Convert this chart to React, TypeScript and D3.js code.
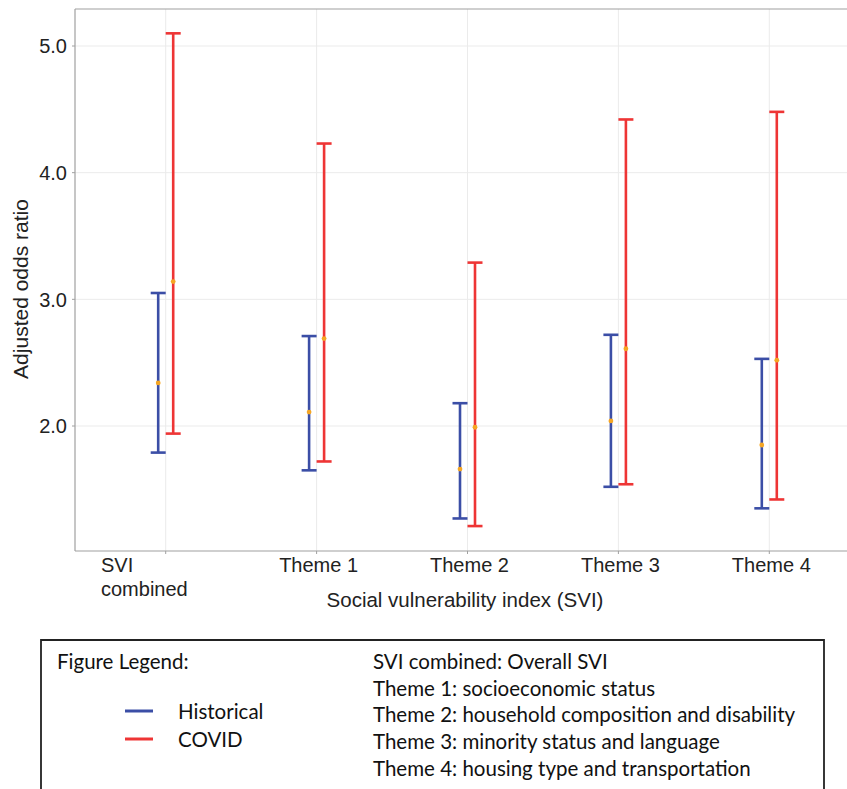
import React from "react";
import * as d3 from "d3";

const categories = ["SVI combined", "Theme 1", "Theme 2", "Theme 3", "Theme 4"];
const histEst = [2.34, 2.11, 1.66, 2.04, 1.85];
const histLow = [1.79, 1.65, 1.27, 1.52, 1.35];
const histHigh = [3.05, 2.71, 2.18, 2.72, 2.53];
const covidEst = [3.14, 2.69, 1.99, 2.61, 2.52];
const covidLow = [1.94, 1.72, 1.21, 1.54, 1.42];
const covidHigh = [5.1, 4.23, 3.29, 4.42, 4.48];
const yTicks = [2, 3, 4, 5];
const legendSeries = ["Historical", "COVID"];
const legendNotes = [
  "SVI combined: Overall SVI",
  "Theme 1: socioeconomic status",
  "Theme 2: household composition and disability",
  "Theme 3: minority status and language",
  "Theme 4: housing type and transportation",
];

const W = 847;
const H = 789;
const BLUE = "#3b4ea6";
const RED = "#ee3535";
const ORANGE = "#f5a623";
const AX_FONT = "'Liberation Sans', Arial, sans-serif";
const LEG_FONT = "Lato, 'Open Sans', sans-serif";

export default function App() {
  const plotL = 75, plotT = 9, plotB = 551, plotR = 860;
  const y = d3.scaleLinear().domain([2, 5]).range([426, 46]);
  const x = d3.scalePoint<string>().domain(categories).range([165.7, 769.3]);
  const dodge = 7.5;
  const cap = 7.5;

  const series = [
    { name: "Historical", color: BLUE, est: histEst, lo: histLow, hi: histHigh, off: -dodge },
    { name: "COVID", color: RED, est: covidEst, lo: covidLow, hi: covidHigh, off: dodge },
  ];

  return (
    <svg width={W} height={H} style={{ position: "absolute", left: 0, top: 0, background: "#fff" }}>
      <defs>
        <clipPath id="plotclip">
          <rect x={plotL} y={plotT} width={plotR - plotL} height={plotB - plotT} />
        </clipPath>
      </defs>
      <rect x={0} y={0} width={W} height={H} fill="#fff" />
      {/* grid */}
      <g>
        {yTicks.map((t) => (
          <line key={"gy" + t} x1={plotL} x2={plotR} y1={y(t)} y2={y(t)} stroke="#ebebeb" strokeWidth={1} />
        ))}
        {categories.map((c) => (
          <line key={"gx" + c} x1={x(c)} x2={x(c)} y1={plotT} y2={plotB} stroke="#ebebeb" strokeWidth={1} />
        ))}
      </g>
      {/* error bars */}
      <g clipPath="url(#plotclip)">
        {series.map((s) =>
          categories.map((c, i) => {
            const cx = (x(c) as number) + s.off;
            return (
              <g key={s.name + c}>
                <line x1={cx} x2={cx} y1={y(s.lo[i])} y2={y(s.hi[i])} stroke={s.color} strokeWidth={2.6} />
                <line x1={cx - cap} x2={cx + cap} y1={y(s.hi[i])} y2={y(s.hi[i])} stroke={s.color} strokeWidth={2.6} />
                <line x1={cx - cap} x2={cx + cap} y1={y(s.lo[i])} y2={y(s.lo[i])} stroke={s.color} strokeWidth={2.6} />
              </g>
            );
          })
        )}
        {series.map((s) =>
          categories.map((c, i) => (
            <circle key={"p" + s.name + c} cx={(x(c) as number) + s.off} cy={y(s.est[i])} r={2.4} fill={ORANGE} />
          ))
        )}
      </g>
      {/* panel border */}
      <line x1={plotL} x2={plotR} y1={plotT} y2={plotT} stroke="#a0a0a0" strokeWidth={1.2} />
      <line x1={plotL} x2={plotL} y1={plotT} y2={plotB} stroke="#a0a0a0" strokeWidth={1.2} />
      <line x1={plotL} x2={plotR} y1={plotB} y2={plotB} stroke="#a0a0a0" strokeWidth={1.2} />
      {/* y axis */}
      {yTicks.map((t) => (
        <g key={"yt" + t}>
          <line x1={plotL - 3} x2={plotL} y1={y(t)} y2={y(t)} stroke="#a0a0a0" strokeWidth={1} />
          <text x={plotL - 8} y={y(t)} dy="0.36em" textAnchor="end" fontFamily={AX_FONT} fontSize={20} fill="#222">
            {d3.format(".1f")(t)}
          </text>
        </g>
      ))}
      <text
        transform={`translate(${28},${289}) rotate(-90)`}
        textAnchor="middle"
        fontFamily={AX_FONT}
        fontSize={21}
        fill="#222"
      >
        Adjusted odds ratio
      </text>
      {/* x axis */}
      {categories.map((c) => (
        <line key={"xt" + c} x1={x(c)} x2={x(c)} y1={plotB} y2={plotB + 3} stroke="#a0a0a0" strokeWidth={1} />
      ))}
      {categories.map((c, i) =>
        i === 0 ? (
          <text key={"xl" + c} fontFamily={AX_FONT} fontSize={20} fill="#222">
            <tspan x={101} y={572}>SVI</tspan>
            <tspan x={101} y={596}>combined</tspan>
          </text>
        ) : (
          <text key={"xl" + c} x={(x(c) as number) + 2} y={572} textAnchor="middle" fontFamily={AX_FONT} fontSize={20} fill="#222">
            {c}
          </text>
        )
      )}
      <text x={465} y={607} textAnchor="middle" fontFamily={AX_FONT} fontSize={20.5} fill="#222">
        Social vulnerability index (SVI)
      </text>
      {/* legend box */}
      <path d={`M${41},${H + 2} V${640} H${824} V${H + 2}`} fill="none" stroke="#222" strokeWidth={1.8} />
      <text x={57} y={669} fontFamily={LEG_FONT} fontSize={20.5} fill="#111">Figure Legend:</text>
      {legendSeries.map((n, i) => (
        <g key={"ls" + n}>
          <line x1={125} x2={153} y1={711 + i * 28} y2={711 + i * 28} stroke={i === 0 ? BLUE : RED} strokeWidth={3} />
          <text x={178} y={719 + i * 28} fontFamily={LEG_FONT} fontSize={20.5} fill="#111">{n}</text>
        </g>
      ))}
      {legendNotes.map((n, i) => (
        <text key={"ln" + i} x={373} y={669 + i * 26.7} fontFamily={LEG_FONT} fontSize={20.5} fill="#111">
          {n}
        </text>
      ))}
    </svg>
  );
}
